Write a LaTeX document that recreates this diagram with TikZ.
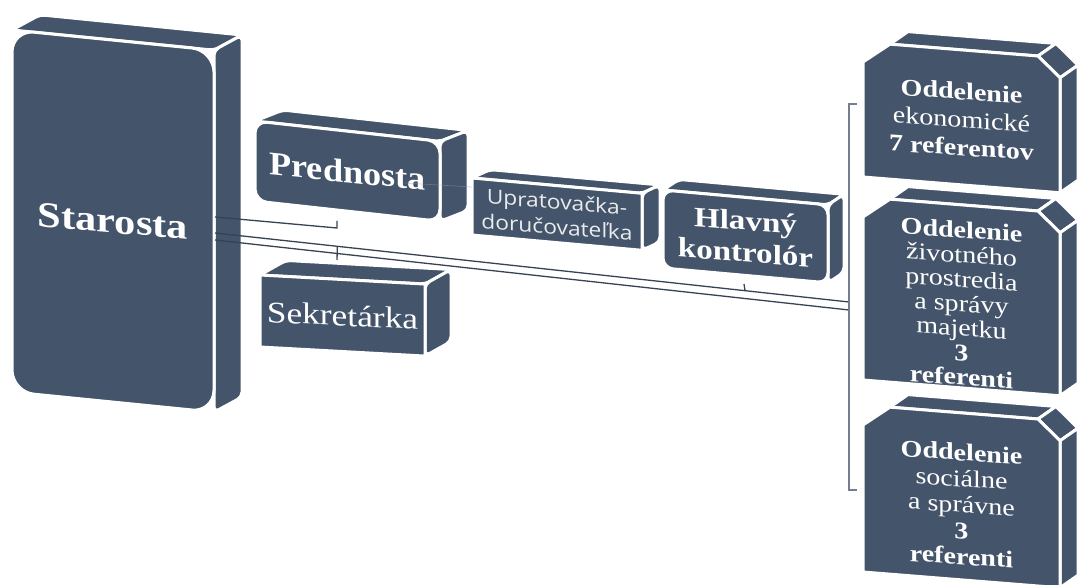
\documentclass[tikz,border=0pt]{standalone}
\usepackage{fontspec}
\setmainfont{Liberation Serif}
\newfontfamily\upratfont{Open Sans}
\usetikzlibrary{calc}
\definecolor{boxblue}{HTML}{44546A}

\tikzset{
  face/.style={fill=boxblue, draw=white, line width=3pt, line join=round},
  link/.style={draw=boxblue!80!black, line width=1.3pt},
  bracket/.style={draw=boxblue!75, line width=2pt},
  boxtext/.style={text=white, align=center, inner sep=0pt},
  headtext/.style={boxtext, xscale=1.18},
  depttext/.style={boxtext, xscale=1.17},
}

% box with rounded front: name, front top-left, width, height, depth, slope, radius, text style, text
\newcommand{\cuboid}[9]{%
  \begin{scope}[shift={#2}, yslant=-#6]
    \draw[face, rounded corners=5pt] (0,0) -- ++#5 -- ++(#3,0) -- (#3,0) -- cycle;
    \draw[face, rounded corners=5pt] (#3,0) -- ++#5 -- ++(0,#4) -- (#3,#4) -- cycle;
    \draw[face, rounded corners=#7] (0,0) rectangle (#3,#4);
    \node[#8, yslant=-#6] (#1) at ({#3/2},{#4/2}) {#9};
  \end{scope}}

% bevelled department box: name, front left corner, height, text offset, line skip, text
\newcommand{\dept}[6]{%
  \begin{scope}[shift={#2}, yslant=-0.08]
    \draw[face] (27,-20) -- ++(18,-14) -- ++(148,0) -- (175,-20) -- cycle;
    \draw[face] (175,-20) -- ++(18,-14) -- ++(22,20) -- (197,0) -- cycle;
    \draw[face] (197,0) -- ++(18,-14) -- ++(0,#3) -- (197,#3) -- cycle;
    \draw[face] (0,0) -- (27,-20) -- (175,-20) -- (197,0) -- (197,#3) -- (0,#3) -- cycle;
    \node[depttext, font=\fontsize{24}{#5}\selectfont, yslant=-0.08] (#1)
      at (98.5,{(#3-20)/2+#4}) {#6};
  \end{scope}}

\begin{document}
\begin{tikzpicture}[x=1pt, y=-1pt]
\useasboundingbox (0,0) rectangle (1082,585);

% boxes
\cuboid{starosta}{(12,30)}{202}{362}{(28,-18)}{0.1}{22pt}
  {headtext, font=\fontsize{36}{40}\selectfont\bfseries}{Starosta}
\cuboid{prednosta}{(255,121)}{185}{80}{(28,-14)}{0.11}{12pt}
  {headtext, font=\fontsize{33}{36}\selectfont\bfseries, xscale=0.93}{Prednosta}
\cuboid{sekretarka}{(260,275)}{165}{72}{(26,-16)}{0.055}{0pt}
  {headtext, font=\fontsize{30}{34}\selectfont}{Sekretárka}
\cuboid{upratovacka}{(472,178)}{170}{57}{(18,-10)}{0.09}{0pt}
  {boxtext, text=white!88!boxblue, font=\upratfont\fontsize{20}{25}\selectfont, xscale=1.14}{Upratovačka-\\doručovateľka}
\cuboid{kontrolor}{(663,190)}{165}{78}{(16,-12)}{0.09}{10pt}
  {headtext, font=\fontsize{28}{32}\selectfont\bfseries}{Hlavný\\kontrolór}

\dept{ekonomicke}{(863,62)}{115}{2}{28}{{\bfseries Oddelenie}\\ekonomické\\{\bfseries 7 referentov}}
\dept{zivotne}{(863,217)}{163}{7}{24.5}{{\bfseries Oddelenie}\\životného\\prostredia\\a správy\\majetku\\{\bfseries 3}\\{\bfseries referenti}}
\dept{socialne}{(863,425)}{147}{8}{26}{{\bfseries Oddelenie}\\sociálne\\a správne\\{\bfseries 3}\\{\bfseries referenti}}

% connectors
\coordinate (sta-o1) at (215,217);
\coordinate (sta-o2) at (215,233);
\coordinate (sta-o3) at (215,240);
\coordinate (pred-i) at (337,221);
\coordinate (sek-i) at (337,260);
\coordinate (hk-i) at (744,284);
\coordinate (br-a) at (849,302);
\coordinate (br-b) at (849,310);
\coordinate (br-t) at (849,104);
\coordinate (br-u) at (849,490);
\coordinate (pred-u) at (405,183);
\coordinate (up-i) at (472,187);

\draw[draw=boxblue!60, line width=0.6pt, opacity=0.5] (pred-u) -- (up-i);
\draw[link] (sta-o1) -- (337,228) -- (pred-i);
\draw[link] (sta-o2) -- (br-a);
\draw[link] (sta-o3) -- (br-b);
\draw[link] (sek-i) -- ($(sta-o2)!0.193!(br-a)$);
\draw[link] (hk-i) -- ($(sta-o2)!0.836!(br-a)$);
\draw[bracket] ($(br-t)+(8,0)$) -- (br-t) -- (br-u) -- ++(8,0);
\end{tikzpicture}
\end{document}
